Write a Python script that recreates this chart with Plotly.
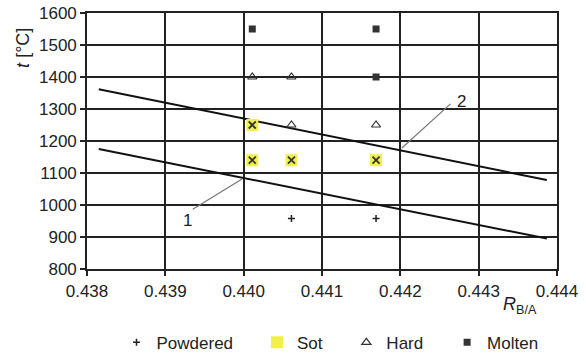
import plotly.graph_objects as go

# Data
powdered_x = [0.44061, 0.44169]
powdered_y = [958, 958]
sot_x = [0.44011, 0.44011, 0.44061, 0.44169]
sot_y = [1250, 1140, 1140, 1140]
hard_x = [0.44011, 0.44061, 0.44061, 0.44169]
hard_y = [1400, 1400, 1250, 1250]
molten_x = [0.44011, 0.44169, 0.44169]
molten_y = [1550, 1550, 1400]

line1_x = [0.43815, 0.44387]
line1_y = [1175, 895]
line2_x = [0.43815, 0.44387]
line2_y = [1362, 1078]

lead1_x = [0.43935, 0.43998]
lead1_y = [987, 1081]
lead2_x = [0.44264, 0.44202]
lead2_y = [1316, 1178]

x_ticks = [0.438, 0.439, 0.440, 0.441, 0.442, 0.443, 0.444]
x_ticklabels = ["0.438", "0.439", "0.440", "0.441", "0.442", "0.443", "0.444"]
y_ticks = [800, 900, 1000, 1100, 1200, 1300, 1400, 1500, 1600]

FONT = "Liberation Sans, Arial, sans-serif"
INK = "#222"
PAD = "\u00a0" * 4

fig = go.Figure()

# boundary lines 1 and 2 with their leader lines
fig.add_trace(go.Scatter(x=line1_x, y=line1_y, mode="lines",
                         line=dict(color="#111", width=2), showlegend=False, hoverinfo="skip"))
fig.add_trace(go.Scatter(x=line2_x, y=line2_y, mode="lines",
                         line=dict(color="#111", width=2), showlegend=False, hoverinfo="skip"))
fig.add_trace(go.Scatter(x=lead1_x, y=lead1_y, mode="lines",
                         line=dict(color="#777", width=1.2), showlegend=False, hoverinfo="skip"))
fig.add_trace(go.Scatter(x=lead2_x, y=lead2_y, mode="lines",
                         line=dict(color="#777", width=1.2), showlegend=False, hoverinfo="skip"))

fig.add_trace(go.Scatter(x=powdered_x, y=powdered_y, mode="markers", name="Powdered" + PAD,
                         marker=dict(symbol="cross-thin", size=5, color=INK,
                                     line=dict(color=INK, width=1.5))))
fig.add_trace(go.Scatter(x=sot_x, y=sot_y, mode="markers", name="Sot" + PAD, legendgroup="sot",
                         marker=dict(symbol="square", size=12, color="#f1f04a",
                                     line=dict(width=0))))
fig.add_trace(go.Scatter(x=sot_x, y=sot_y, mode="markers", name="Sot", legendgroup="sot",
                         showlegend=False,
                         marker=dict(symbol="x-thin", size=7, color="#333",
                                     line=dict(color="#333", width=1.8))))
fig.add_trace(go.Scatter(x=hard_x, y=hard_y, mode="markers", name="Hard" + PAD,
                         marker=dict(symbol="triangle-up-open", size=8, color="#333",
                                     line=dict(color="#333", width=1.2))))
fig.add_trace(go.Scatter(x=molten_x, y=molten_y, mode="markers", name="Molten",
                         marker=dict(symbol="square", size=7, color="#333",
                                     line=dict(width=0))))

axis_common = dict(showgrid=True, gridcolor=INK, gridwidth=1.6,
                   showline=True, linecolor=INK, linewidth=1.6, mirror=True,
                   ticks="outside", ticklen=5, tickcolor=INK, tickwidth=1.6,
                   zeroline=False, automargin=False,
                   tickfont=dict(family=FONT, size=17, color=INK))
fig.update_xaxes(range=[0.438, 0.444], tickvals=x_ticks, ticktext=x_ticklabels,
                 ticklabelstandoff=1, **axis_common)
fig.update_yaxes(range=[800, 1600], tickvals=y_ticks, **axis_common)

fig.update_layout(
    width=586, height=354,
    margin=dict(l=87, r=29, t=13, b=85, autoexpand=False),
    paper_bgcolor="white", plot_bgcolor="white",
    font=dict(family=FONT, size=17, color=INK),
    legend=dict(orientation="h", x=0.517, xanchor="center", y=-0.218, yanchor="top",
                font=dict(family=FONT, size=17, color=INK),
                itemwidth=30, traceorder="normal"),
    annotations=[
        dict(text="<i>t</i> [°C]", xref="paper", yref="paper", x=-0.135, y=0.862,
             textangle=-90, showarrow=False, font=dict(family=FONT, size=18, color=INK),
             xanchor="center", yanchor="middle"),
        dict(text="<i>R</i><sub>B/A</sub>", xref="paper", yref="paper", x=0.881, y=-0.09,
             showarrow=False, font=dict(family=FONT, size=18, color=INK),
             xanchor="left", yanchor="top"),
        dict(text="1", x=0.43928, y=953, showarrow=False,
             font=dict(family=FONT, size=17, color=INK)),
        dict(text="2", x=0.44278, y=1324, showarrow=False,
             font=dict(family=FONT, size=17, color=INK)),
    ],
)

fig.write_html("out.html", config={"displayModeBar": False},
               post_script="document.body.style.margin='0';")
